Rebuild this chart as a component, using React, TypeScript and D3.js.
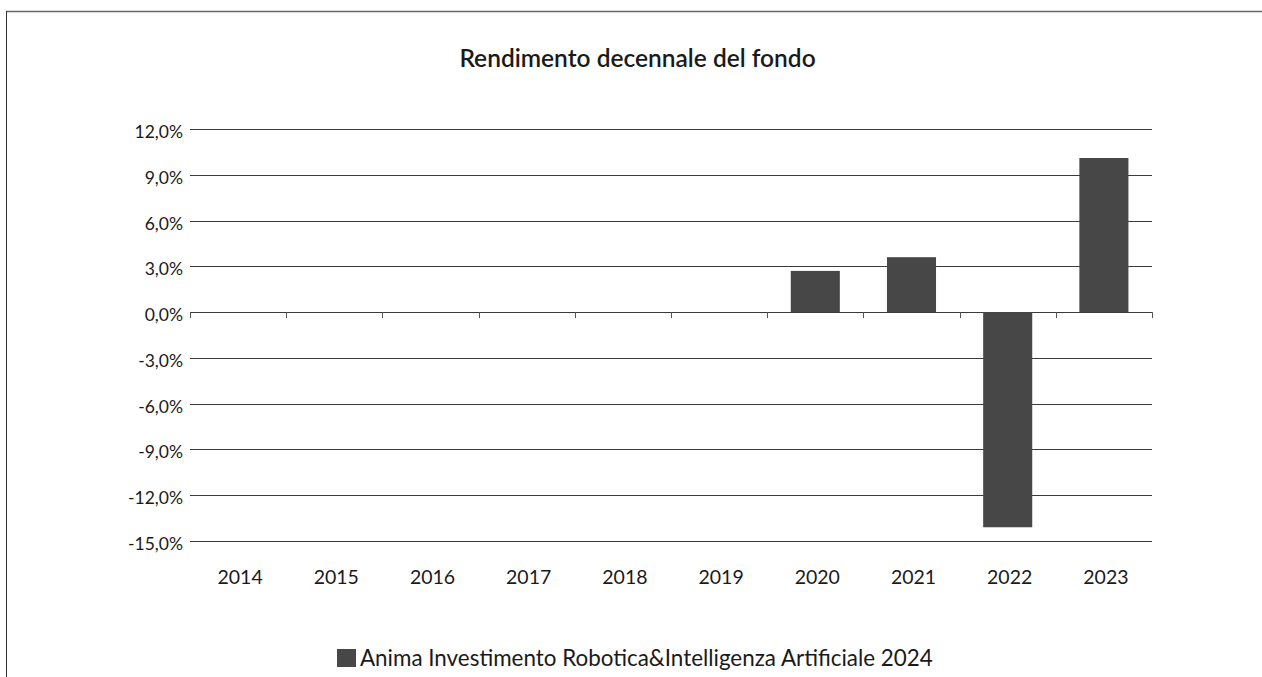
import React from "react";
import * as d3 from "d3";

const categories = ["2014", "2015", "2016", "2017", "2018", "2019", "2020", "2021", "2022", "2023"];
const values: (number | null)[] = [null, null, null, null, null, null, 2.7, 3.6, -14.1, 10.1];
const yTicks = [12, 9, 6, 3, 0, -3, -6, -9, -12, -15];
const title = "Rendimento decennale del fondo";
const seriesName = "Anima Investimento Robotica&Intelligenza Artificiale 2024";

const W = 1262;
const H = 677;
const left = 190;
const right = 1152;
const top = 129;
const bottom = 541;
const FONT = "Lato, 'Open Sans', sans-serif";
const BAR = "#474747";
const TEXT = "#1a1a1a";

export default function App() {
  const x = d3.scaleBand<string>().domain(categories).range([left, right]).paddingInner(0).paddingOuter(0);
  const y = d3.scaleLinear().domain([-15, 12]).range([bottom, top]);
  const fmt = (v: number) => v.toFixed(1).replace(".", ",") + "%";
  const bw = x.bandwidth() * 0.51;
  const y0 = y(0);
  return (
    <div style={{ position: "absolute", left: 0, top: 0, width: W, height: H, background: "#fff", overflow: "hidden" }}>
      <svg width={W} height={H} style={{ display: "block" }}>
        <line x1={6} x2={W} y1={11.5} y2={11.5} stroke="#666" strokeWidth={1.6} />
        <line x1={6.5} x2={6.5} y1={11} y2={H} stroke="#333" strokeWidth={1} />
        <text x={637.5} y={67} textAnchor="middle" fontFamily={FONT} fontSize={24.5} fontWeight={600} fill={TEXT}>
          {title}
        </text>
        {yTicks.map((t) => (
          <g key={t}>
            <line x1={left} x2={right} y1={Math.round(y(t)) + 0.5} y2={Math.round(y(t)) + 0.5} stroke="#3a3a3a" strokeWidth={1} />
            <text x={183} y={y(t) + 9} textAnchor="end" fontFamily={FONT} fontSize={17.5} fill={TEXT}>
              {fmt(t)}
            </text>
          </g>
        ))}
        {categories.map((c, i) => (
          <g key={c}>
            <line x1={Math.round(x(c)!) + 0.5} x2={Math.round(x(c)!) + 0.5} y1={y0} y2={y0 + 6} stroke="#555" />
            {i === categories.length - 1 && (
              <line x1={right + 0.5} x2={right + 0.5} y1={y0} y2={y0 + 6} stroke="#555" />
            )}
            <text x={x(c)! + x.bandwidth() / 2 + 2} y={584} textAnchor="middle" fontFamily={FONT} fontSize={19.5} fill={TEXT}>
              {c}
            </text>
          </g>
        ))}
        {categories.map((c, i) => {
          const v = values[i];
          if (v === null) return null;
          const cx = x(c)! + x.bandwidth() / 2;
          const yt = Math.min(y(v), y0);
          const h = Math.abs(y(v) - y0);
          return <rect key={c} x={cx - bw / 2} y={yt} width={bw} height={h} fill={BAR} />;
        })}
        <rect x={337} y={649} width={19} height={18} fill={BAR} />
        <text x={360} y={666} fontFamily={FONT} fontSize={22.4} fill={TEXT}>
          {seriesName}
        </text>
      </svg>
    </div>
  );
}
